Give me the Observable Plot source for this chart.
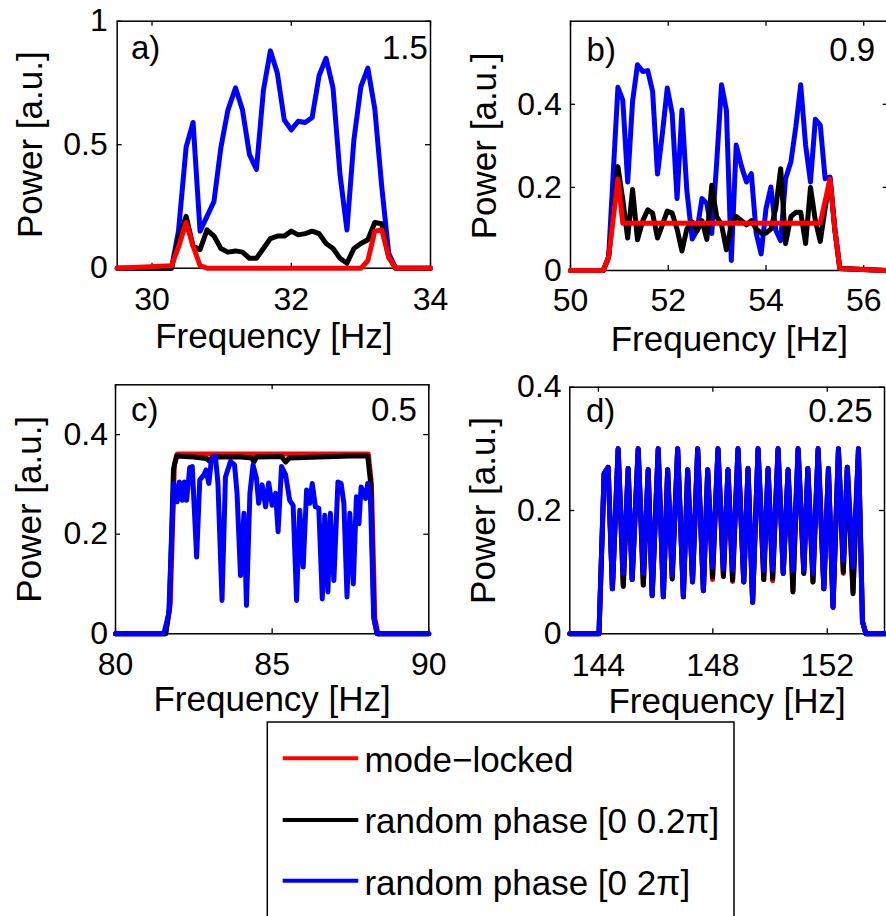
<!DOCTYPE html>
<html><head><meta charset="utf-8">
<script src="https://cdn.jsdelivr.net/npm/d3@7"></script>
<script src="https://cdn.jsdelivr.net/npm/@observablehq/plot@0.6"></script>
<style>
html,body{margin:0;padding:0;background:#fff;overflow:hidden;}
#fig{position:relative;width:886px;height:916px;overflow:hidden;background:#fff;}
#fig > div{position:absolute;}
</style></head><body><div id="fig"></div><script>
// ---------- panel a) 1.5 ----------
const aFreq = [29.5, 30.28, 30.38, 30.49, 30.59, 30.69, 30.79, 30.89, 30.99, 31.09, 31.2, 31.3, 31.4, 31.5, 31.6, 31.7, 31.8, 31.9, 32.0, 32.1, 32.2, 32.3, 32.4, 32.5, 32.6, 32.7, 32.8, 32.9, 33.0, 33.1, 33.2, 33.3, 33.4, 33.5, 34];
const aModeLocked = [0, 0.01, 0.085, 0.185, 0.09, 0.01, 0, 0, 0, 0, 0, 0, 0, 0, 0, 0, 0, 0, 0, 0, 0, 0, 0, 0, 0, 0, 0, 0, 0, 0.03, 0.15, 0.155, 0.045, 0, 0];
const aPhaseSmall = [0, 0, 0.12, 0.21, 0.09, 0.075, 0.155, 0.13, 0.08, 0.065, 0.07, 0.065, 0.04, 0.04, 0.08, 0.12, 0.13, 0.13, 0.15, 0.135, 0.14, 0.15, 0.14, 0.10, 0.08, 0.04, 0.02, 0.08, 0.10, 0.115, 0.185, 0.18, 0.045, 0, 0];
const aPhaseFull = [0, 0, 0.15, 0.49, 0.59, 0.15, 0.21, 0.27, 0.49, 0.64, 0.73, 0.64, 0.46, 0.40, 0.72, 0.88, 0.79, 0.60, 0.56, 0.595, 0.59, 0.61, 0.78, 0.85, 0.73, 0.38, 0.155, 0.52, 0.735, 0.81, 0.645, 0.33, 0.06, 0, 0];

// ---------- panel b) 0.9 ----------
const bFreq = [50.0, 50.67, 50.78, 50.97, 51.07, 51.17, 51.27, 51.37, 51.48, 51.58, 51.68, 51.78, 51.88, 51.98, 52.08, 52.18, 52.28, 52.38, 52.49, 52.59, 52.69, 52.79, 52.89, 52.99, 53.09, 53.19, 53.29, 53.39, 53.50, 53.60, 53.70, 53.80, 53.90, 54.00, 54.10, 54.20, 54.30, 54.40, 54.51, 54.61, 54.71, 54.81, 54.91, 55.01, 55.11, 55.21, 55.31, 55.41, 55.51, 56.5];
const bModeLocked = [0, 0, 0.032, 0.22, 0.114, 0.114, 0.114, 0.114, 0.114, 0.114, 0.114, 0.114, 0.114, 0.114, 0.114, 0.114, 0.114, 0.114, 0.114, 0.114, 0.114, 0.114, 0.114, 0.114, 0.114, 0.114, 0.114, 0.114, 0.114, 0.114, 0.114, 0.114, 0.114, 0.114, 0.114, 0.114, 0.114, 0.114, 0.114, 0.114, 0.114, 0.114, 0.114, 0.114, 0.114, 0.167, 0.22, 0.097, 0.005, 0];
const bPhaseSmall = [0, 0, 0.032, 0.25, 0.17, 0.078, 0.195, 0.074, 0.12, 0.146, 0.138, 0.078, 0.11, 0.143, 0.138, 0.10, 0.047, 0.10, 0.117, 0.095, 0.12, 0.075, 0.205, 0.13, 0.11, 0.05, 0.11, 0.13, 0.12, 0.11, 0.12, 0.10, 0.09, 0.09, 0.10, 0.15, 0.245, 0.065, 0.13, 0.14, 0.14, 0.065, 0.20, 0.12, 0.07, 0.15, 0.22, 0.097, 0.005, 0];
const bPhaseFull = [0, 0, 0.032, 0.441, 0.41, 0.213, 0.407, 0.495, 0.479, 0.481, 0.431, 0.232, 0.33, 0.439, 0.378, 0.173, 0.386, 0.193, 0.076, 0.097, 0.173, 0.161, 0.089, 0.258, 0.447, 0.386, 0.024, 0.302, 0.25, 0.213, 0.233, 0.089, 0.040, 0.149, 0.201, 0.097, 0.072, 0.221, 0.262, 0.346, 0.447, 0.302, 0.213, 0.364, 0.35, 0.221, 0.225, 0.097, 0.005, 0];

// ---------- panel c) 0.5 ----------
const cFreqModeLocked = [80, 81.6, 81.75, 81.88, 81.97, 88.07, 88.17, 88.28, 88.38, 90];
const cModeLocked = [0, 0, 0.06, 0.34, 0.361, 0.361, 0.30, 0.03, 0, 0];
const cFreqPhaseSmall = [80, 81.6, 81.72, 81.85, 81.95, 82.5, 82.9, 83.0, 83.1, 84.0, 84.35, 84.42, 84.5, 85.3, 85.43, 85.55, 86.5, 87.0, 87.5, 88.05, 88.15, 88.25, 88.35, 90];
const cPhaseSmall = [0, 0, 0.05, 0.33, 0.357, 0.355, 0.352, 0.347, 0.355, 0.355, 0.353, 0.345, 0.355, 0.356, 0.345, 0.353, 0.355, 0.356, 0.357, 0.357, 0.30, 0.03, 0, 0];
const cFreqPhaseFull = [80, 81.54, 81.70, 81.86, 81.97, 82.04, 82.13, 82.20, 82.27, 82.37, 82.45, 82.59, 82.69, 82.82, 82.89, 82.98, 83.06, 83.19, 83.27, 83.40, 83.51, 83.67, 83.80, 83.88, 83.99, 84.10, 84.18, 84.29, 84.39, 84.50, 84.57, 84.68, 84.79, 84.89, 85.00, 85.11, 85.19, 85.30, 85.43, 85.56, 85.67, 85.78, 85.88, 85.99, 86.10, 86.20, 86.28, 86.38, 86.49, 86.60, 86.68, 86.78, 86.86, 86.97, 87.10, 87.20, 87.29, 87.39, 87.48, 87.59, 87.69, 87.77, 87.84, 87.98, 88.05, 88.14, 88.24, 88.35, 90];
const cPhaseFull = [0, 0, 0.04, 0.302, 0.265, 0.305, 0.268, 0.305, 0.268, 0.334, 0.336, 0.154, 0.309, 0.319, 0.329, 0.302, 0.349, 0.356, 0.302, 0.067, 0.315, 0.346, 0.339, 0.282, 0.117, 0.242, 0.057, 0.282, 0.339, 0.312, 0.262, 0.299, 0.255, 0.303, 0.258, 0.282, 0.205, 0.336, 0.319, 0.268, 0.258, 0.067, 0.248, 0.134, 0.289, 0.262, 0.302, 0.255, 0.252, 0.07, 0.238, 0.084, 0.242, 0.107, 0.305, 0.302, 0.262, 0.074, 0.242, 0.1, 0.275, 0.221, 0.295, 0.272, 0.302, 0.268, 0.034, 0, 0];

// ---------- panel d) 0.25 ----------
const dFreq = [143, 144.02, 144.20, 144.34, 144.49, 144.69, 144.87, 145.04, 145.18, 145.39, 145.57, 145.74, 145.88, 146.09, 146.27, 146.42, 146.58, 146.77, 146.97, 147.12, 147.29, 147.47, 147.67, 147.82, 147.99, 148.18, 148.37, 148.53, 148.69, 148.88, 149.08, 149.23, 149.39, 149.58, 149.78, 149.93, 150.09, 150.28, 150.46, 150.63, 150.80, 150.98, 151.18, 151.32, 151.50, 151.68, 151.88, 152.04, 152.20, 152.39, 152.56, 152.70, 152.90, 153.09, 153.23, 153.35, 154];
const dPhaseFull = [0, 0, 0.26, 0.27, 0.073, 0.30, 0.098, 0.268, 0.088, 0.30, 0.098, 0.266, 0.062, 0.30, 0.06, 0.266, 0.095, 0.30, 0.06, 0.266, 0.084, 0.30, 0.07, 0.266, 0.108, 0.30, 0.105, 0.266, 0.103, 0.30, 0.084, 0.268, 0.051, 0.30, 0.103, 0.268, 0.103, 0.30, 0.098, 0.266, 0.103, 0.30, 0.103, 0.268, 0.098, 0.30, 0.073, 0.268, 0.043, 0.30, 0.119, 0.27, 0.108, 0.30, 0.02, 0, 0];
const dPhaseSmall = [0, 0, 0.26, 0.27, 0.073, 0.30, 0.077, 0.268, 0.088, 0.30, 0.079, 0.266, 0.062, 0.30, 0.06, 0.266, 0.089, 0.30, 0.06, 0.266, 0.084, 0.30, 0.07, 0.266, 0.092, 0.30, 0.093, 0.266, 0.087, 0.30, 0.084, 0.268, 0.051, 0.30, 0.088, 0.268, 0.09, 0.30, 0.098, 0.266, 0.068, 0.30, 0.098, 0.268, 0.084, 0.30, 0.073, 0.268, 0.043, 0.30, 0.10, 0.27, 0.065, 0.30, 0.02, 0, 0];
const dModeLocked = [0, 0, 0.26, 0.27, 0.073, 0.30, 0.077, 0.268, 0.088, 0.30, 0.079, 0.266, 0.062, 0.30, 0.06, 0.266, 0.089, 0.30, 0.06, 0.266, 0.084, 0.30, 0.07, 0.266, 0.088, 0.30, 0.093, 0.266, 0.085, 0.30, 0.084, 0.268, 0.051, 0.30, 0.088, 0.268, 0.086, 0.30, 0.098, 0.266, 0.07, 0.30, 0.098, 0.268, 0.084, 0.30, 0.073, 0.268, 0.043, 0.30, 0.098, 0.27, 0.068, 0.30, 0.02, 0, 0];

// ---------- ticks, labels, legend ----------
const aXTicks = [30, 32, 34], aYTicks = [0, 0.5, 1];
const bXTicks = [50, 52, 54, 56], bYTicks = [0, 0.2, 0.4];
const cXTicks = [80, 85, 90], cYTicks = [0, 0.2, 0.4];
const dXTicks = [144, 148, 152], dYTicks = [0, 0.2, 0.4];
const panelTags = ["a)", "b)", "c)", "d)"];
const panelValues = ["1.5", "0.9", "0.5", "0.25"];
const xLabel = "Frequency [Hz]";
const yLabel = "Power [a.u.]";
const legendNames = ["mode\u2212locked", "random phase [0 0.2\u03c0]", "random phase [0 2\u03c0]"];
const RED = "#ff0000", BLACK = "#000000", BLUE = "#0000ff";
const legendColors = [RED, BLACK, BLUE];

const FONT = '"Liberation Sans", Arial, Helvetica, sans-serif';
const fig = document.getElementById("fig");

function rows(fs, vs) { return fs.map((f, i) => ({f, v: vs[i]})); }

function panel(cfg) {
  const [mt, mr, mb, ml] = cfg.margin;
  const fw = cfg.width - ml - mr, fh = cfg.height - mt - mb;
  const tk = {stroke: "black", strokeWidth: 1.3};
  const marks = [
    Plot.frame({stroke: "black", strokeWidth: 1.5}),
    Plot.tickX(cfg.xTicks, {x: d => d, insetTop: fh - 5, ...tk}),
    Plot.tickX(cfg.xTicks, {x: d => d, insetBottom: fh - 5, ...tk}),
    Plot.tickY(cfg.yTicks, {y: d => d, insetRight: fw - 5, ...tk}),
    Plot.tickY(cfg.yTicks, {y: d => d, insetLeft: fw - 5, ...tk}),
    Plot.axisX(cfg.xTicks, {tickSize: 0, tickPadding: cfg.xPad, label: null, tickFormat: d => String(d), fontSize: 32}),
    Plot.axisY(cfg.yTicks, {tickSize: 0, tickPadding: cfg.yPad, label: null, tickFormat: d => String(d), fontSize: 32}),
    ...cfg.lines.map(l => Plot.line(rows(l.f, l.v), {x: "f", y: "v", stroke: l.color, strokeWidth: 5, strokeLinejoin: "round", strokeLinecap: "round"})),
    Plot.text([cfg.tag], {text: d => d, frameAnchor: "top-left", textAnchor: "start", lineAnchor: "bottom", dx: cfg.tagPos[0], dy: cfg.tagPos[1], fontSize: 33, fill: "black"}),
    Plot.text([cfg.value], {text: d => d, frameAnchor: "top-right", textAnchor: "end", lineAnchor: "bottom", dx: cfg.valPos[0], dy: cfg.valPos[1], fontSize: 33, fill: "black"}),
    Plot.text([xLabel], {text: d => d, frameAnchor: "bottom", textAnchor: "middle", lineAnchor: "bottom", dy: cfg.xLabelDy, fontSize: 35, fill: "black"}),
    Plot.text([yLabel], {text: d => d, frameAnchor: "left", textAnchor: "middle", lineAnchor: "middle", rotate: -90, dx: -86, fontSize: 35, fill: "black"})
  ];
  const svg = Plot.plot({
    width: cfg.width, height: cfg.height,
    marginTop: mt, marginRight: mr, marginBottom: mb, marginLeft: ml,
    x: {domain: cfg.xDomain}, y: {domain: cfg.yDomain},
    style: {fontFamily: FONT, fontSize: "32px", background: "transparent", color: "black", overflow: "visible"},
    marks
  });
  const wrap = document.createElement("div");
  wrap.style.left = cfg.left + "px"; wrap.style.top = cfg.top + "px";
  wrap.style.width = cfg.width + "px"; wrap.style.height = cfg.height + "px";
  wrap.appendChild(svg);
  fig.appendChild(wrap);
}

panel({
  left: 0, top: 0, width: 443, height: 360, margin: [20.7, 13, 92.3, 116.7],
  xDomain: [29.5, 34], yDomain: [0, 1], xTicks: aXTicks, yTicks: aYTicks,
  xPad: 19.5, yPad: 9.4, xLabelDy: 79.3,
  tag: panelTags[0], value: panelValues[0], tagPos: [13.7, 37.6], valPos: [-2.7, 37.6],
  lines: [
    {f: aFreq, v: aPhaseFull, color: BLUE},
    {f: aFreq, v: aPhaseSmall, color: BLACK},
    {f: aFreq, v: aModeLocked, color: RED}
  ]
});
panel({
  left: 443, top: 0, width: 447, height: 360, margin: [20.7, 2.3, 90, 127],
  xDomain: [50, 56.5], yDomain: [0, 0.6], xTicks: bXTicks, yTicks: bYTicks,
  xPad: 17.5, yPad: 8.7, xLabelDy: 80.5,
  tag: panelTags[1], value: panelValues[1], tagPos: [16.1, 39.3], valPos: [-13, 39.3],
  lines: [
    {f: bFreq, v: bPhaseFull, color: BLUE},
    {f: bFreq, v: bPhaseSmall, color: BLACK},
    {f: bFreq, v: bModeLocked, color: RED}
  ]
});
panel({
  left: 0, top: 360, width: 443, height: 370, margin: [24.3, 14.7, 96.7, 115],
  xDomain: [80, 90], yDomain: [0, 0.5], xTicks: cXTicks, yTicks: cYTicks,
  xPad: 18.5, yPad: 7.5, xLabelDy: 77.2,
  tag: panelTags[2], value: panelValues[2], tagPos: [15.4, 35.7], valPos: [-12, 35.7],
  lines: [
    {f: cFreqModeLocked, v: cModeLocked, color: RED},
    {f: cFreqPhaseSmall, v: cPhaseSmall, color: BLACK},
    {f: cFreqPhaseFull, v: cPhaseFull, color: BLUE}
  ]
});
panel({
  left: 443, top: 360, width: 443, height: 370, margin: [26.7, 2, 96.7, 126.3],
  xDomain: [143, 154], yDomain: [0, 0.4], xTicks: dXTicks, yTicks: dYTicks,
  xPad: 19.5, yPad: 8.2, xLabelDy: 79.2,
  tag: panelTags[3], value: panelValues[3], tagPos: [16.2, 35], valPos: [-12, 35],
  lines: [
    {f: dFreq, v: dModeLocked, color: RED},
    {f: dFreq, v: dPhaseSmall, color: BLACK},
    {f: dFreq, v: dPhaseFull, color: BLUE}
  ]
});

// ---------- legend ----------
const legWrap = document.createElement("div");
legWrap.style.left = "0px"; legWrap.style.top = "0px";
legWrap.style.width = "886px"; legWrap.style.height = "916px";
fig.appendChild(legWrap);
const leg = d3.select(legWrap).append("svg").attr("width", 886).attr("height", 916).style("display", "block");
leg.append("rect").attr("x", 267.3).attr("y", 722).attr("width", 466.7).attr("height", 260)
  .attr("fill", "white").attr("stroke", "black").attr("stroke-width", 1.5);
const lineYs = [758.3, 820, 880.7], textYs = [771.7, 833.3, 895];
legendNames.forEach((name, i) => {
  leg.append("line").attr("x1", 282.7).attr("x2", 358.3).attr("y1", lineYs[i]).attr("y2", lineYs[i])
    .attr("stroke", legendColors[i]).attr("stroke-width", 4);
  leg.append("text").attr("x", 364.4).attr("y", textYs[i]).attr("font-family", FONT).attr("font-size", 35)
    .attr("fill", "black").text(name);
});
</script></body></html>
